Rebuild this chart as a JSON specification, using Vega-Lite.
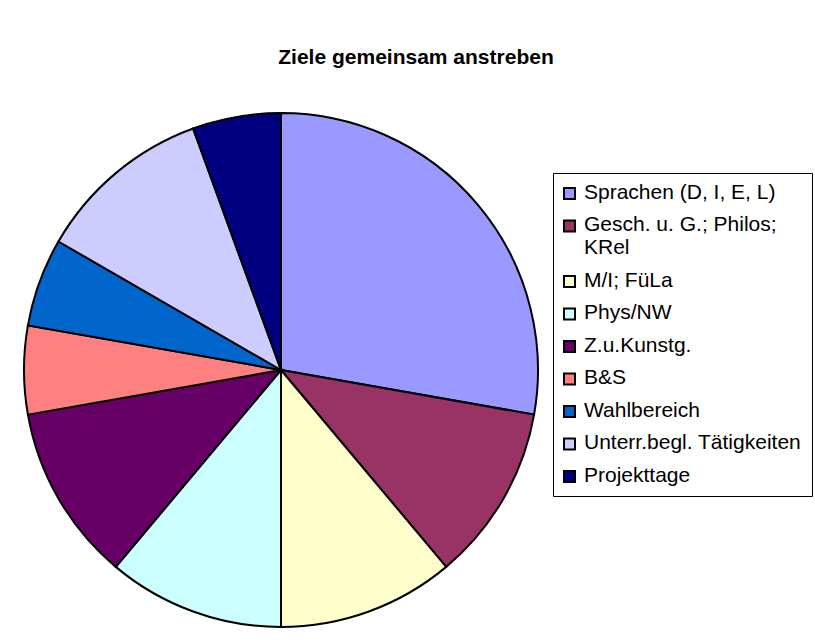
{
  "$schema": "https://vega.github.io/schema/vega-lite/v6.json",
  "autosize": "none",
  "width": 514,
  "height": 514,
  "padding": {"left": 24, "top": 113, "right": 277, "bottom": 16},
  "background": "white",
  "title": {
    "text": "Ziele gemeinsam anstreben",
    "font": "Liberation Sans",
    "fontSize": 21,
    "fontWeight": "bold",
    "color": "black",
    "frame": "group",
    "anchor": "middle",
    "baseline": "middle",
    "offset": 30,
    "dx": 135
  },
  "data": {
    "values": [
      {"idx": 1, "label": "Sprachen (D, I, E, L)", "value": 5},
      {"idx": 2, "label": "Gesch. u. G.; Philos; KRel", "value": 2},
      {"idx": 3, "label": "M/I; FüLa", "value": 2},
      {"idx": 4, "label": "Phys/NW", "value": 2},
      {"idx": 5, "label": "Z.u.Kunstg.", "value": 2},
      {"idx": 6, "label": "B&S", "value": 1},
      {"idx": 7, "label": "Wahlbereich", "value": 1},
      {"idx": 8, "label": "Unterr.begl. Tätigkeiten", "value": 2},
      {"idx": 9, "label": "Projekttage", "value": 1}
    ]
  },
  "mark": {"type": "arc", "stroke": "black", "strokeWidth": 2, "outerRadius": 257},
  "encoding": {
    "theta": {"field": "value", "type": "quantitative", "stack": true},
    "order": {"field": "idx", "type": "quantitative"},
    "color": {
      "field": "label",
      "type": "nominal",
      "sort": null,
      "scale": {
        "domain": ["Sprachen (D, I, E, L)", "Gesch. u. G.; Philos; KRel", "M/I; FüLa", "Phys/NW", "Z.u.Kunstg.", "B&S", "Wahlbereich", "Unterr.begl. Tätigkeiten", "Projekttage"],
        "range": ["#9999FF", "#993366", "#FFFFCC", "#CCFFFF", "#660066", "#FF8080", "#0066CC", "#CCCCFF", "#000080"]
      },
      "legend": {
        "title": null,
        "orient": "none",
        "legendX": 529,
        "legendY": 60,
        "padding": 10,
        "strokeColor": "black",
        "fillColor": "white",
        "symbolType": "square",
        "symbolSize": 121,
        "symbolOffset": -4,
        "symbolStrokeColor": "black",
        "symbolStrokeWidth": 2,
        "symbolOpacity": 1,
        "labelFont": "Liberation Sans",
        "labelFontSize": 21,
        "labelColor": "black",
        "labelLimit": 400,
        "labelOffset": 4,
        "labelBaseline": "top",
        "labelLineHeight": 23,
        "rowPadding": 10.5,
        "labelExpr": "datum.label == 'Gesch. u. G.; Philos; KRel' ? ['Gesch. u. G.; Philos;', 'KRel'] : datum.label",
        "encode": {"labels": {"update": {"dy": {"value": -12}}}}
      }
    }
  },
  "config": {"view": {"stroke": null}}
}
